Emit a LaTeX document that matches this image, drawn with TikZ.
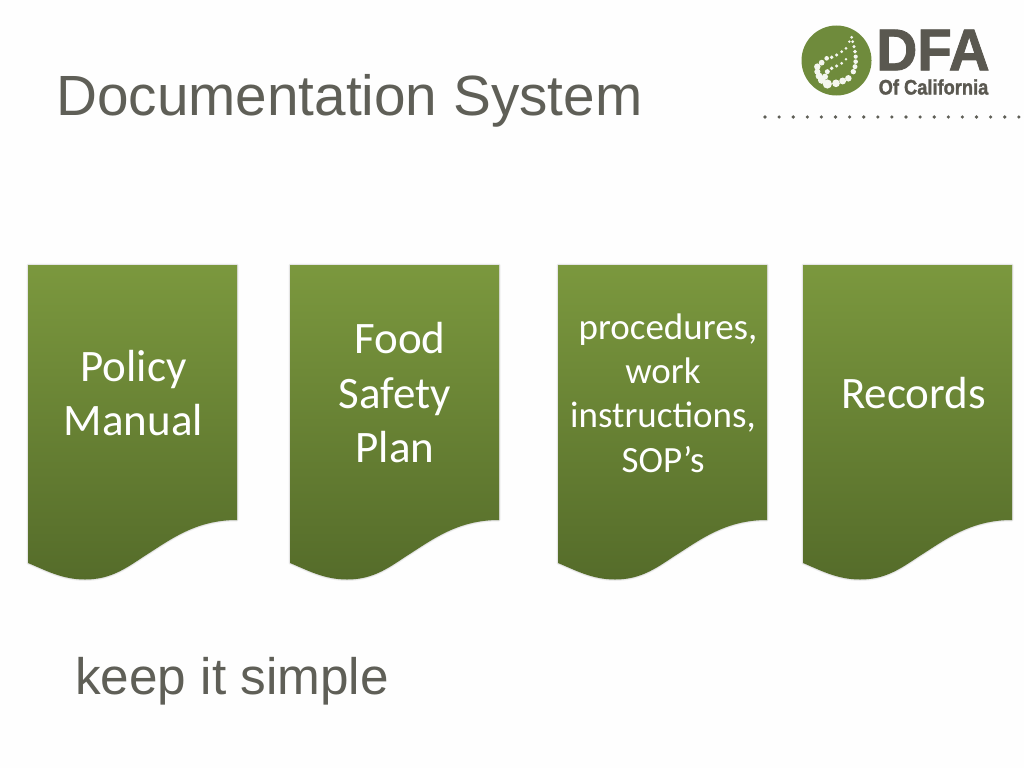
\documentclass[tikz,border=0pt]{standalone}
\usepackage{fontspec}
\setmainfont{Liberation Sans}
\newfontfamily\boxfont{Carlito}
\newfontface\logofont{Liberation Sans Bold}[FakeBold=1.5]
\definecolor{titlegrey}{HTML}{5F5F57}
\definecolor{logogreen}{HTML}{6F8B3C}
\definecolor{logogrey}{HTML}{5A5850}
\definecolor{dotgrey}{HTML}{5F5F57}
\definecolor{boxtop}{HTML}{7B983E}
\definecolor{boxbottom}{HTML}{556C2A}
\tikzset{
  titletext/.style={anchor=west,text=titlegrey,inner sep=0pt,font=\fontsize{56.7}{60}\selectfont},
  subtext/.style={anchor=west,text=titlegrey,inner sep=0pt,font=\fontsize{51.3}{54}\selectfont},
  boxtext/.style={text=white,inner sep=0pt,align=center,font=\boxfont\fontsize{45}{54.5}\selectfont},
  smallboxtext/.style={text=white,inner sep=0pt,align=center,font=\boxfont\fontsize{37}{44.3}\selectfont},
  docbox/.style={top color=boxtop,bottom color=boxbottom,middle color=boxtop!50!boxbottom,draw=none},
  docshadow/.style={draw=black,draw opacity=0.06,line join=round},
  logotext/.style={anchor=center,inner sep=0pt,text=logogrey,draw=none},
}
\newcommand{\docoutline}[1]{(#1,265) -- (#1+209,265) -- (#1+209,520)
    .. controls (#1+167,520) and (#1+142,540) .. (#1+115,557)
    .. controls (#1+97,569) and (#1+82,579.5) .. (#1+57,579.5)
    .. controls (#1+34,579.5) and (#1+17,570) .. (#1,563) -- cycle}
\newcommand{\docshape}[1]{%
  \draw[docshadow,line width=3pt] \docoutline{#1};
  \draw[docshadow,line width=1.5pt] \docoutline{#1};
  \path[docbox] \docoutline{#1};}
\begin{document}
\begin{tikzpicture}[x=1pt,y=-1pt]
\useasboundingbox (0,0) rectangle (1024,768);
\fill[white!99.5!black] (0,0) rectangle (1024,768);
\node[titletext] (title) at (56,101) {Documentation System};
\node[subtext] (sub) at (75,681) {keep it simple};
\docshape{28}\docshape{290}\docshape{558}\docshape{803}
\node[boxtext] (policy) at (133.5,393) {Policy\\Manual};
\node[boxtext] (food) at (395,393) {\hspace*{10pt}Food\\Safety\\Plan};
\node[smallboxtext] (proc) at (663,393) {\hspace*{10pt}procedures,\\work\\instructions,\\SOP’s};
\node[boxtext] (records) at (913.5,393) {Records};
% logo
\fill[logogreen] (836.5,60.5) circle (35);
\begin{scope}[shift={(740,0)},x=0.3333pt,y=-0.3333pt]
\foreach \x/\y/\r in {335/112/4,338/125/4,342/140/4.5,345/155/5,347/170/5.5,347/185/6,345/200/6.5,340/215/7,325/235/8.5,308/243/9,288/250/10,262/252/12,245/240/10,237/228/9,232/215/8,232/200/8.5,245/188/7.5,260/175/6,275/172/5,290/165/4.5,305/155/4,318/145/4,328/125/3.5,318/178/3.5,305/190/4,290/198/4.5,275/205/5,262/215/6.5,255/230/8}
  \fill[white!92!logogreen] (\x,\y) circle ({\r*1.15});
\end{scope}
\node[logotext,font=\logofont\fontsize{59}{59}\selectfont,xscale=0.96] (dfa) at (933,50) {DFA};
\node[logotext,font=\logofont\fontsize{21}{21}\selectfont,xscale=0.87] (ofca) at (933.5,87) {Of California};
\foreach \i in {0,...,18} \fill[dotgrey] (765+14.1*\i,117) circle (1.8);
\end{tikzpicture}
\end{document}
